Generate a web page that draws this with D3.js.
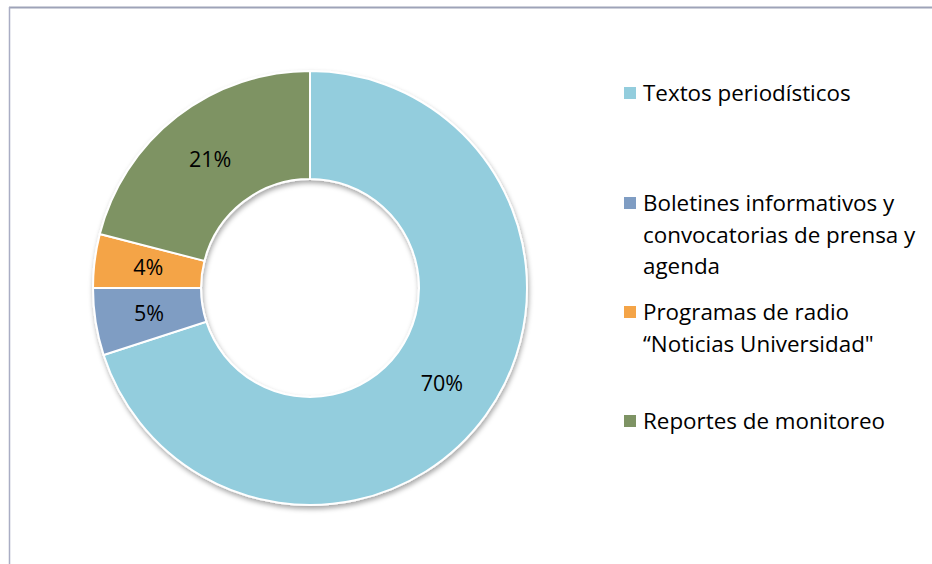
<!DOCTYPE html>
<html>
<head>
<meta charset="utf-8">
<script src="https://cdn.jsdelivr.net/npm/d3@7"></script>
<style>
	body { margin: 0; background: #ffffff; }
	svg { display: block; font-family: "Open Sans", Lato, sans-serif; }
</style>
</head>
<body>
<div id="chart"></div>
<script>
// chart values
const categories = [
	'Textos periodísticos',
	'Boletines informativos y convocatorias de prensa y agenda',
	'Programas de radio “Noticias Universidad"',
	'Reportes de monitoreo'
];
const values = [70, 5, 4, 21];
const colors = ['#93cddd', '#7f9dc3', '#f4a447', '#7e9364'];
// legend text as wrapped lines
const legendLines = [
	['Textos periodísticos'],
	['Boletines informativos y', 'convocatorias de prensa y', 'agenda'],
	['Programas de radio', '“Noticias Universidad"'],
	['Reportes de monitoreo']
];

let width = 932, height = 564;

let svg = d3.select('#chart').append('svg')
	.attr('width', width)
	.attr('height', height);

let defs = svg.append('defs');
let filter = defs.append('filter')
	.attr('id', 'shadow')
	.attr('x', '-10%').attr('y', '-10%')
	.attr('width', '120%').attr('height', '120%');
filter.append('feDropShadow')
	.attr('dx', 1)
	.attr('dy', 3)
	.attr('stdDeviation', 2.5)
	.attr('flood-color', '#000000')
	.attr('flood-opacity', 0.35);

// frame lines (top and left)
svg.append('line')
	.attr('x1', 9).attr('y1', 7.5).attr('x2', width).attr('y2', 7.5)
	.attr('stroke', '#9ea3b8').attr('stroke-width', 2);
svg.append('line')
	.attr('x1', 9.5).attr('y1', 7).attr('x2', 9.5).attr('y2', height)
	.attr('stroke', '#a9adc4').attr('stroke-width', 1.5);

let cx = 310, cy = 288;
let outerR = 217, innerR = 109;

let pie = d3.pie()
	.sort(null)
	.value(d => d);

let arc = d3.arc()
	.innerRadius(innerR)
	.outerRadius(outerR);

let labelArc = d3.arc()
	.innerRadius((innerR + outerR) / 2)
	.outerRadius((innerR + outerR) / 2);

let donut = svg.append('g')
	.attr('transform', `translate(${cx}, ${cy})`);

let arcs = pie(values);

donut.append('g')
	.attr('filter', 'url(#shadow)')
	.selectAll('path')
	.data(arcs)
	.enter()
	.append('path')
	.attr('d', arc)
	.attr('fill', (d, i) => colors[i])
	.attr('stroke', '#ffffff')
	.attr('stroke-width', 2);

donut.selectAll('text')
	.data(arcs)
	.enter()
	.append('text')
	.attr('transform', d => `translate(${labelArc.centroid(d)})`)
	.attr('text-anchor', 'middle')
	.attr('dy', '0.35em')
	.attr('font-size', 21.5)
	.attr('fill', '#000000')
	.text(d => d.value + '%');

// legend
let legendX = 624;
let squareTops = [87, 197, 306, 415];
let lineHeight = 31.5;

let legend = svg.append('g')
	.selectAll('g')
	.data(categories)
	.enter()
	.append('g');

legend.append('rect')
	.attr('x', legendX)
	.attr('y', (d, i) => squareTops[i])
	.attr('width', 12)
	.attr('height', 12)
	.attr('fill', (d, i) => colors[i]);

legend.append('text')
	.attr('x', legendX + 19)
	.attr('y', (d, i) => squareTops[i] + 14)
	.attr('font-size', 22.4)
	.attr('fill', '#000000')
	.selectAll('tspan')
	.data((d, i) => legendLines[i])
	.enter()
	.append('tspan')
	.attr('x', legendX + 19)
	.attr('dy', (d, j) => j == 0 ? 0 : lineHeight)
	.text(d => d);
</script>
</body>
</html>
